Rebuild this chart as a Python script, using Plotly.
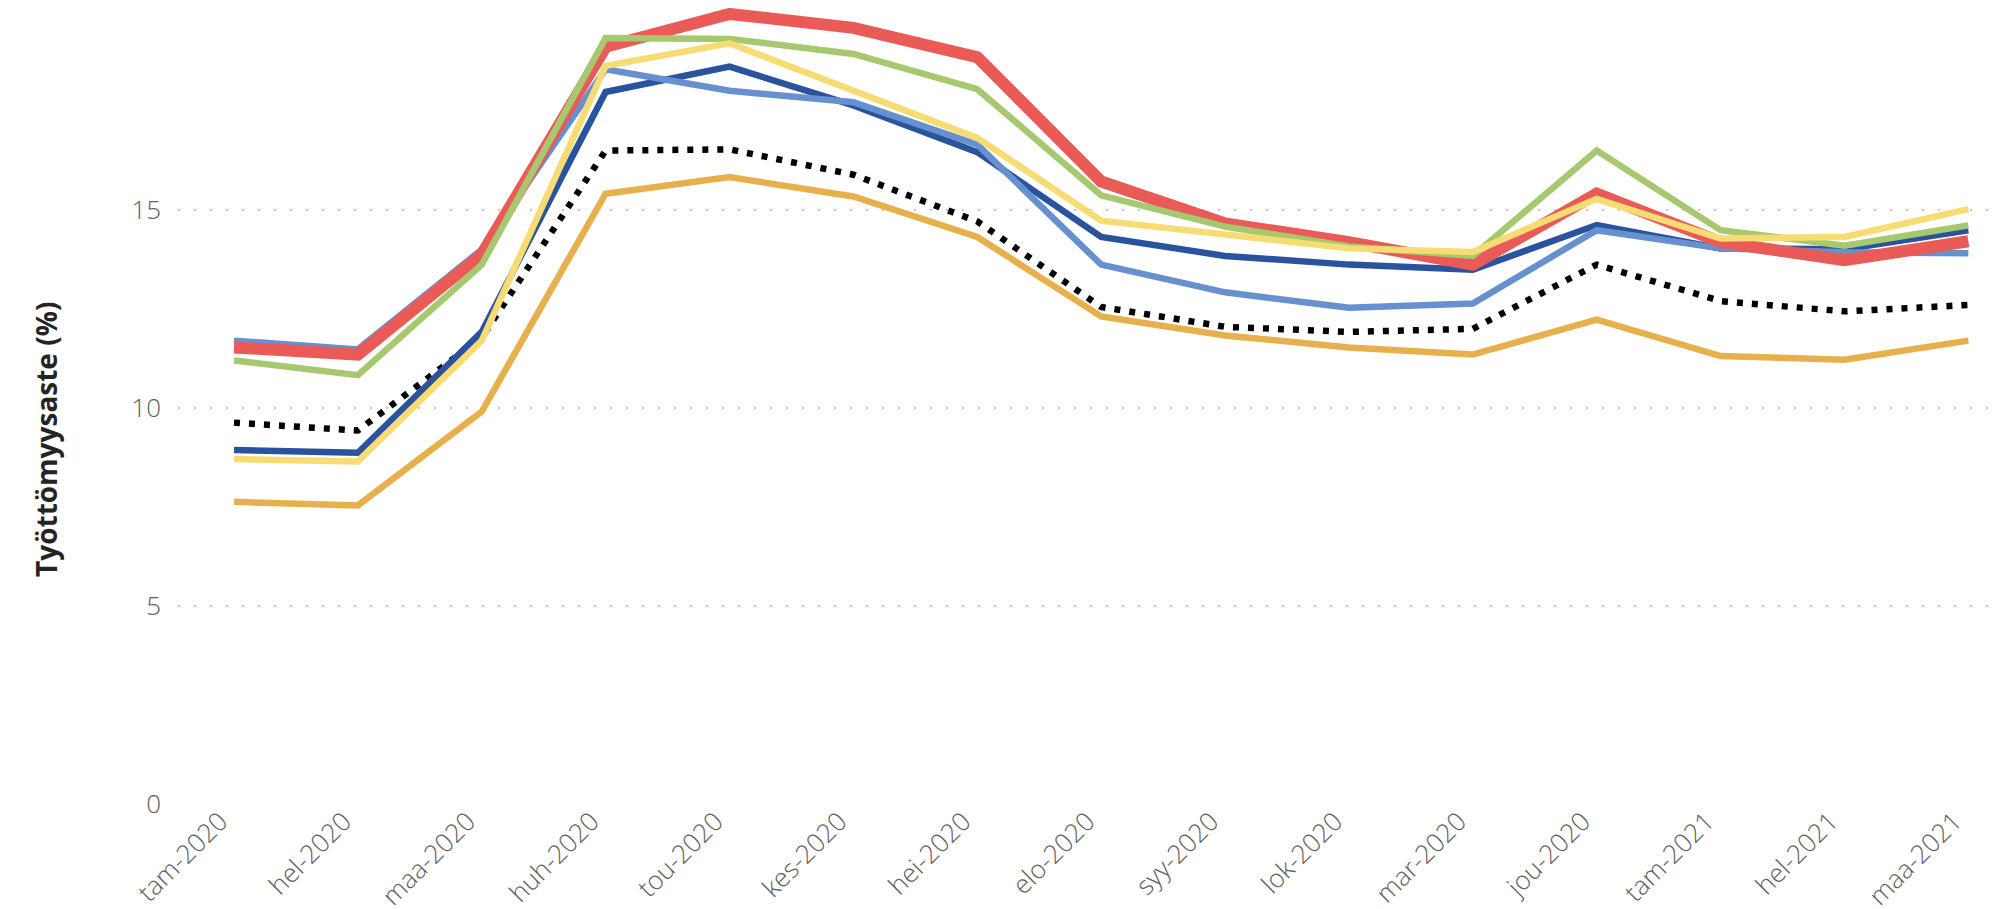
import plotly.graph_objects as go

months = ["tam-2020", "hel-2020", "maa-2020", "huh-2020", "tou-2020", "kes-2020",
          "hei-2020", "elo-2020", "syy-2020", "lok-2020", "mar-2020", "jou-2020",
          "tam-2021", "hel-2021", "maa-2021"]

red_vals = [11.53, 11.35, 13.88, 19.12, 19.95, 19.60, 18.86, 15.72, 14.66, 14.19, 13.62, 15.41, 14.19, 13.73, 14.21]
green_vals = [11.20, 10.83, 13.62, 19.34, 19.32, 18.94, 18.05, 15.37, 14.58, 14.08, 13.84, 16.50, 14.49, 14.10, 14.61]
yellow_vals = [8.71, 8.65, 11.70, 18.64, 19.21, 18.03, 16.82, 14.73, 14.38, 14.03, 13.94, 15.28, 14.28, 14.32, 15.02]
darkblue_vals = [8.94, 8.87, 11.92, 17.98, 18.62, 17.64, 16.46, 14.32, 13.84, 13.62, 13.49, 14.62, 14.03, 14.01, 14.49]
lightblue_vals = [11.70, 11.48, 14.00, 18.55, 18.01, 17.72, 16.65, 13.62, 12.92, 12.53, 12.64, 14.49, 14.03, 13.93, 13.91]
orange_vals = [7.63, 7.54, 9.91, 15.41, 15.83, 15.34, 14.32, 12.31, 11.83, 11.53, 11.35, 12.23, 11.31, 11.22, 11.70]
average_vals = [9.63, 9.43, 11.78, 16.50, 16.53, 15.89, 14.71, 12.55, 12.05, 11.92, 12.00, 13.62, 12.70, 12.44, 12.60]

y_ticks = [0, 5, 10, 15]
y_title = "Työttömyysaste (%)"

# drawing order: bottom -> top
series = [
    ("Koko maa", average_vals, "#000000", 6.5, "6px,9px"),
    ("Alue 6", orange_vals, "#E8B04D", 6.5, "solid"),
    ("Alue 4", darkblue_vals, "#2A539E", 6.5, "solid"),
    ("Alue 5", lightblue_vals, "#6690CE", 6.5, "solid"),
    ("Alue 1", red_vals, "#EA5B57", 12, "solid"),
    ("Alue 2", green_vals, "#A6C86E", 6.5, "solid"),
    ("Alue 3", yellow_vals, "#F6DC72", 6.5, "solid"),
]

fig = go.Figure()
for name, vals, color, width, dash in series:
    fig.add_trace(go.Scatter(
        x=months, y=vals, name=name, mode="lines",
        line=dict(color=color, width=width, dash=dash),
        cliponaxis=False, showlegend=False,
    ))

tick_font = dict(family="Open Sans", size=26, color="#605E5C", weight=300)

fig.update_layout(
    width=2000, height=909,
    margin=dict(l=170, r=0, t=0, b=113),
    paper_bgcolor="white", plot_bgcolor="white",
    showlegend=False,
    xaxis=dict(
        type="category", range=[-0.452, 14.32],
        showgrid=False, zeroline=False, showline=False,
        tickangle=-45, tickfont=tick_font, ticks="",
        ticklabelstandoff=-4, ticklabelshift=-14,
    ),
    yaxis=dict(
        range=[0, 20.1], tickvals=y_ticks, ticktext=[str(t) for t in y_ticks],
        showgrid=True, gridcolor="#c4c4c4", gridwidth=1.5, griddash="2px,14px",
        zeroline=False, showline=False, ticks="",
        tickfont=tick_font, ticklabelstandoff=16,
    ),
    annotations=[dict(
        text="<b>" + y_title + "</b>", textangle=-90, xref="paper", yref="paper",
        x=(38 - 170) / 1830, y=(796 - 432) / 796,
        xanchor="center", yanchor="middle", showarrow=False,
        font=dict(family="Open Sans", size=28, color="#252423"),
    )],
)

fig.write_html("out.html")
